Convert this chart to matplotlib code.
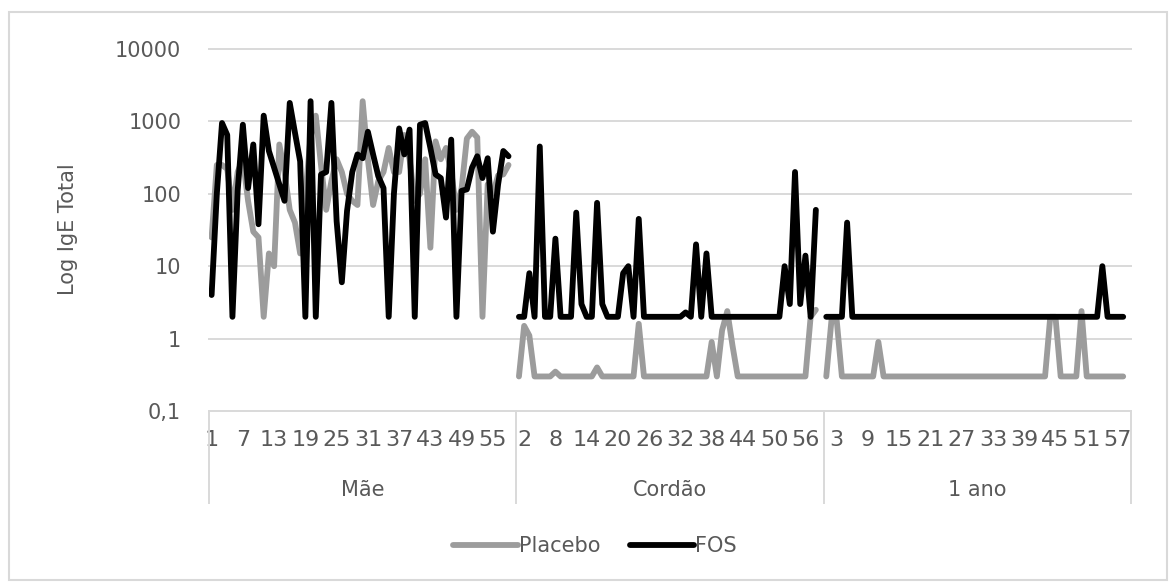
import numpy as np
import matplotlib.pyplot as plt
from matplotlib.patches import Rectangle
from matplotlib.ticker import FixedLocator, NullLocator

# IgE totals per subject; each group has 59 category slots, the last one empty
groups = ["Mãe", "Cordão", "1 ano"]
slots_per_group = 59

placebo_mae = [25, 250, 250, 220, 60, 200, 300, 80, 30, 25, 2, 15, 10, 480, 200, 60,
               40, 15, 100, 600, 1200, 250, 60, 150, 300, 200, 100, 80, 70, 1900, 300,
               70, 150, 200, 430, 200, 200, 650, 300, 80, 100, 300, 18, 530, 300, 430,
               200, 60, 120, 580, 720, 600, 2, 135, 100, 180, 185, 250]
fos_mae = [4, 100, 950, 650, 2, 110, 900, 120, 480, 38, 1200, 390, 230, 135, 80, 1800,
           700, 280, 2, 1900, 2, 185, 200, 1800, 42, 6, 58, 200, 350, 310, 720, 350,
           175, 120, 2, 100, 800, 350, 770, 2, 900, 950, 430, 185, 165, 47, 560, 2,
           110, 115, 230, 330, 165, 310, 30, 135, 390, 330]

placebo_cordao = [0.3, 1.5, 1.1, 0.3, 0.3, 0.3, 0.3, 0.35, 0.3, 0.3,
                  0.3, 0.3, 0.3, 0.3, 0.3, 0.4, 0.3, 0.3, 0.3, 0.3,
                  0.3, 0.3, 0.3, 1.6, 0.3, 0.3, 0.3, 0.3, 0.3, 0.3,
                  0.3, 0.3, 0.3, 0.3, 0.3, 0.3, 0.3, 0.9, 0.3, 1.3,
                  2.4, 0.8, 0.3, 0.3, 0.3, 0.3, 0.3, 0.3, 0.3, 0.3,
                  0.3, 0.3, 0.3, 0.3, 0.3, 0.3, 2, 2.5]
fos_cordao = [2, 2, 8, 2, 450, 2, 2, 24, 2, 2,
              2, 55, 3, 2, 2, 75, 3, 2, 2, 2,
              8, 10, 2, 45, 2, 2, 2, 2, 2, 2,
              2, 2, 2.3, 2, 20, 2, 15, 2, 2, 2,
              2, 2, 2, 2, 2, 2, 2, 2, 2, 2,
              2, 10, 3, 200, 3, 14, 2, 60]

placebo_ano = [0.3, 1.8, 1.8, 0.3, 0.3, 0.3, 0.3, 0.3, 0.3, 0.3,
               0.9, 0.3, 0.3, 0.3, 0.3, 0.3, 0.3, 0.3, 0.3, 0.3,
               0.3, 0.3, 0.3, 0.3, 0.3, 0.3, 0.3, 0.3, 0.3, 0.3,
               0.3, 0.3, 0.3, 0.3, 0.3, 0.3, 0.3, 0.3, 0.3, 0.3,
               0.3, 0.3, 0.3, 2, 2, 0.3, 0.3, 0.3, 0.3, 2.4,
               0.3, 0.3, 0.3, 0.3, 0.3, 0.3, 0.3, 0.3]
fos_ano = [2, 2, 2, 2, 40, 2, 2, 2, 2, 2,
           2, 2, 2, 2, 2, 2, 2, 2, 2, 2,
           2, 2, 2, 2, 2, 2, 2, 2, 2, 2,
           2, 2, 2, 2, 2, 2, 2, 2, 2, 2,
           2, 2, 2, 2, 2, 2, 2, 2, 2, 2,
           2, 2, 2, 10, 2, 2, 2, 2]

tick_labels = ["1", "7", "13", "19", "25", "31", "37", "43", "49", "55",
               "2", "8", "14", "20", "26", "32", "38", "44", "50", "56",
               "3", "9", "15", "21", "27", "33", "39", "45", "51", "57"]
y_ticks = [0.1, 1, 10, 100, 1000, 10000]
y_tick_labels = ["0,1", "1", "10", "100", "1000", "10000"]

placebo_series = [placebo_mae, placebo_cordao, placebo_ano]
fos_series = [fos_mae, fos_cordao, fos_ano]

GREY_LINE = "#9C9C9C"
TEXT = "#595959"
GRID = "#D9D9D9"
FS = 15

fig = plt.figure(figsize=(11.76, 5.82), dpi=100)
ax = fig.add_axes([209 / 1176, 1 - 411 / 582, 922 / 1176, 362 / 582])

n_total = slots_per_group * len(groups)
line_kw = dict(lw=4.2, solid_joinstyle="round", solid_capstyle="round")

for g, vals in enumerate(placebo_series):
    x = g * slots_per_group + np.arange(len(vals))
    h_plac, = ax.plot(x, vals, color=GREY_LINE, zorder=3, **line_kw)
for g, vals in enumerate(fos_series):
    x = g * slots_per_group + np.arange(len(vals))
    h_fos, = ax.plot(x, vals, color="black", zorder=4, **line_kw)

ax.set_yscale("log")
ax.set_ylim(0.1, 10000)
ax.set_xlim(-0.5, n_total - 0.5)

ax.yaxis.set_major_locator(FixedLocator(y_ticks))
ax.yaxis.set_minor_locator(NullLocator())
ax.set_yticklabels(y_tick_labels)
ax.set_xticks(np.arange(0, n_total, 6))
ax.set_xticklabels(tick_labels)
ax.tick_params(axis="both", length=0, labelsize=FS, labelcolor=TEXT)
ax.tick_params(axis="x", pad=14, labelsize=16)
ax.tick_params(axis="y", pad=20)

for s in ax.spines.values():
    s.set_visible(False)

# horizontal gridlines
for yv in y_ticks:
    ax.axhline(yv, color=GRID, lw=1.4, zorder=1, clip_on=False)

# group separators and group names under the category labels
xt = ax.get_xaxis_transform()
for b in np.arange(len(groups) + 1) * slots_per_group - 0.5:
    ax.plot([b, b], [0, -0.254], transform=xt, color=GRID, lw=1.4, clip_on=False)
for g, name in enumerate(groups):
    ax.text(g * slots_per_group + (slots_per_group - 1) / 2, -0.218, name,
            transform=xt, ha="center", va="center", fontsize=FS, color=TEXT)

ax.set_ylabel("Log IgE Total", fontsize=FS, color=TEXT)
ax.yaxis.set_label_coords(-0.142, 0.503)

ax.legend([h_plac, h_fos], ["Placebo", "FOS"], loc="center",
          bbox_to_anchor=(0.506, 0.062), bbox_transform=fig.transFigure,
          ncol=2, frameon=False, handlelength=3.1, handletextpad=0.05,
          columnspacing=1.4, fontsize=FS, labelcolor=TEXT)

# chart area border
fig.patches.append(Rectangle((9 / 1176, 2 / 582), 1158 / 1176, 568 / 582,
                             transform=fig.transFigure, fill=False,
                             ec=GRID, lw=1.5))

fig.savefig("out.png", dpi=100)
